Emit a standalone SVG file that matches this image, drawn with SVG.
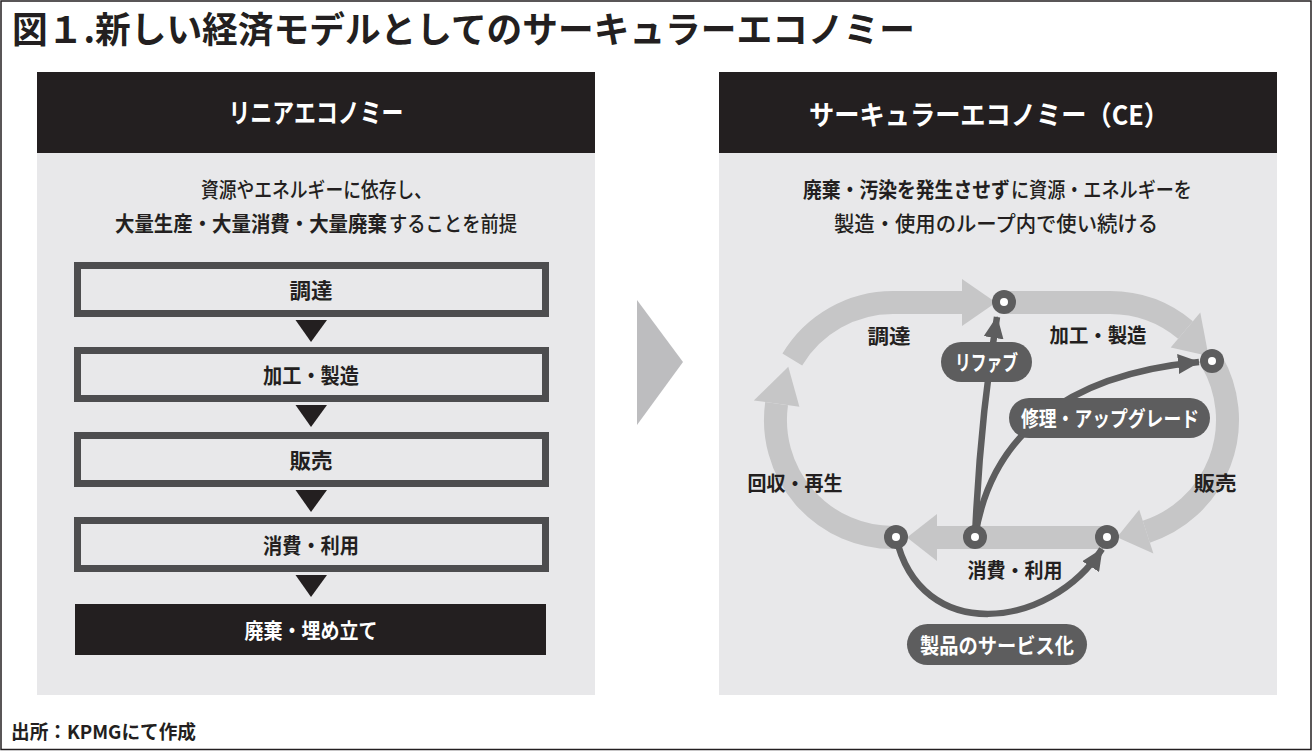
<svg xmlns="http://www.w3.org/2000/svg" width="1314" height="751" viewBox="0 0 1314 751">
<style>
text{font-family:"Noto Sans CJK JP","Noto Sans",sans-serif;}
.b{font-weight:700;}
.m{font-weight:500;}
.w{fill:#ffffff;}
.k{fill:#231f20;}
.panel{fill:#e8e8ea;}
.head{fill:#231f20;}
.box{fill:#e8e8ea;stroke:#4d4d4f;stroke-width:7;}
.tri{fill:#231f20;}
.band{fill:none;stroke:#c6c6c7;stroke-width:23;stroke-linecap:butt;}
.bandhead{fill:#c6c6c7;}
.conn{fill:none;stroke:#5d5d5e;stroke-width:6.5;}
.pill{fill:#5d5d5e;}
.ring{fill:#5d5d5e;}
.dot{fill:#ffffff;}
</style>
<defs>
<marker id="ah" viewBox="0 0 22 20" refX="21" refY="10" markerWidth="22" markerHeight="20" markerUnits="userSpaceOnUse" orient="auto">
<path d="M0,0 L22,10 L0,20 z" fill="#5d5d5e"/>
</marker>
</defs>
<rect x="1" y="1" width="1310" height="748.5" fill="#ffffff" stroke="#231f20" stroke-width="1.5"/>
<text id="title" class="b k" x="12" y="42.5" font-size="36" textLength="903" lengthAdjust="spacingAndGlyphs">図１.新しい経済モデルとしてのサーキュラーエコノミー</text>

<g id="linear-panel">
<rect class="panel" x="37" y="72" width="558" height="623"/>
<rect class="head" x="37" y="72" width="558" height="81"/>
<text class="b w" x="316" y="123" font-size="27" text-anchor="middle" textLength="175" lengthAdjust="spacingAndGlyphs">リニアエコノミー</text>
<text class="m k" x="316.5" y="197" font-size="21" text-anchor="middle" textLength="231" lengthAdjust="spacingAndGlyphs">資源やエネルギーに依存し、</text>
<text class="b k" transform="translate(115,231) scale(0.925,1)" x="0" y="0" font-size="21">大量生産・大量消費・大量廃棄</text>
<text class="m k" transform="translate(389,231) scale(0.871,1)" x="0" y="0" font-size="21">することを前提</text>
</g>

<g id="step-chotatsu">
<rect class="box" x="77.5" y="265.5" width="468" height="48"/>
<text class="b k" x="311" y="297.5" font-size="21" text-anchor="middle" textLength="43" lengthAdjust="spacingAndGlyphs">調達</text>
</g>
<g id="step-kakou">
<rect class="box" x="77.5" y="350.5" width="468" height="48"/>
<text class="b k" x="311" y="382.5" font-size="21" text-anchor="middle" textLength="96" lengthAdjust="spacingAndGlyphs">加工・製造</text>
</g>
<g id="step-hanbai">
<rect class="box" x="77.5" y="435.5" width="468" height="48"/>
<text class="b k" x="311" y="467.5" font-size="21" text-anchor="middle" textLength="43" lengthAdjust="spacingAndGlyphs">販売</text>
</g>
<g id="step-shouhi">
<rect class="box" x="77.5" y="520.5" width="468" height="48"/>
<text class="b k" x="311" y="552.5" font-size="21" text-anchor="middle" textLength="96" lengthAdjust="spacingAndGlyphs">消費・利用</text>
</g>
<g id="step-haiki">
<rect class="head" x="75" y="604" width="471" height="51"/>
<text class="b w" x="311" y="637.5" font-size="21" text-anchor="middle" textLength="133" lengthAdjust="spacingAndGlyphs">廃棄・埋め立て</text>
</g>

<g id="linear-connectors">
<polygon class="tri" points="295.5,320 327,320 311,342"/>
<polygon class="tri" points="295.5,405 327,405 311,427"/>
<polygon class="tri" points="295.5,490 327,490 311,512"/>
<polygon class="tri" points="295.5,575 327,575 311,597"/>
</g>

<g id="transition-arrow">
<polygon points="637,300 683,362 637,425" fill="#bdbdbf"/>
</g>

<g id="circular-panel">
<rect class="panel" x="719" y="72" width="558" height="623"/>
<rect class="head" x="719" y="72" width="558" height="81"/>
<text class="b w" x="809" y="125" font-size="27" textLength="360" lengthAdjust="spacingAndGlyphs">サーキュラーエコノミー（CE）</text>
<text class="b k" transform="translate(803,197) scale(0.896,1)" x="0" y="0" font-size="21">廃棄・汚染を発生させず</text>
<text class="m k" transform="translate(1011,197) scale(0.862,1)" x="0" y="0" font-size="21">に資源・エネルギーを</text>
<text class="m k" x="996" y="231" font-size="21" text-anchor="middle" textLength="324" lengthAdjust="spacingAndGlyphs">製造・使用のループ内で使い続ける</text>
</g>

<g id="loop">
<path class="band" d="M893,537.5 A117.5,117.5 0 0 1 776.6,403.6"/>
<polygon class="bandhead" points="753.8,400.4 799.4,406.8 788.3,366.7"/>
<path class="band" d="M792.3,359.5 A117.5,117.5 0 0 1 893,302.5 L962,302.5"/>
<polygon class="bandhead" points="962,279 962,326 996,302.5"/>
<path class="band" d="M1004,302.5 L1110,302.5 A117.5,117.5 0 0 1 1185.5,330"/>
<polygon class="bandhead" points="1200.3,312.4 1170.7,347.6 1208.5,356"/>
<path class="band" d="M1211.8,361.25 A117.5,117.5 0 0 1 1146.3,531.7"/>
<polygon class="bandhead" points="1153.4,553.6 1139.2,509.8 1117,537.3"/>
<path class="band" d="M1107,537.5 L937,537.5"/>
<polygon class="bandhead" points="937,514 937,561 907,537.5"/>
</g>

<g id="connectors">
<path class="conn" d="M975,537 Q980,420 997,317" marker-end="url(#ah)"/>
<path class="conn" d="M975,537 C990,440 1060,375 1199,362" marker-end="url(#ah)"/>
<path class="conn" d="M896,537 C920,645 1050,630 1102,549" marker-end="url(#ah)"/>
</g>

<g id="node-top"><circle class="ring" cx="1004" cy="302" r="12"/><circle class="dot" cx="1004" cy="302" r="4"/></g>
<g id="node-right"><circle class="ring" cx="1212" cy="361" r="12"/><circle class="dot" cx="1212" cy="361" r="4"/></g>
<g id="node-bottom-left"><circle class="ring" cx="896" cy="537" r="12"/><circle class="dot" cx="896" cy="537" r="4"/></g>
<g id="node-bottom-mid"><circle class="ring" cx="975" cy="537" r="12"/><circle class="dot" cx="975" cy="537" r="4"/></g>
<g id="node-bottom-right"><circle class="ring" cx="1107" cy="537" r="12"/><circle class="dot" cx="1107" cy="537" r="4"/></g>

<g id="pill-refurb">
<rect class="pill" x="941" y="342" width="91" height="40" rx="20"/>
<text class="b w" x="986.5" y="370" font-size="21" text-anchor="middle" textLength="63" lengthAdjust="spacingAndGlyphs">リファブ</text>
</g>
<g id="pill-repair">
<rect class="pill" x="1009" y="398" width="201" height="40" rx="20"/>
<text class="b w" x="1110" y="426" font-size="21" text-anchor="middle" textLength="178" lengthAdjust="spacingAndGlyphs">修理・アップグレード</text>
</g>
<g id="pill-service">
<rect class="pill" x="907" y="624" width="180" height="41" rx="20.5"/>
<text class="b w" x="997" y="652.5" font-size="21" text-anchor="middle" textLength="154" lengthAdjust="spacingAndGlyphs">製品のサービス化</text>
</g>

<g id="loop-labels">
<text class="b k" x="889" y="343.5" font-size="20" text-anchor="middle" textLength="43" lengthAdjust="spacingAndGlyphs">調達</text>
<text class="b k" x="1098" y="342.5" font-size="20" text-anchor="middle" textLength="97" lengthAdjust="spacingAndGlyphs">加工・製造</text>
<text class="b k" x="795" y="490.5" font-size="20" text-anchor="middle" textLength="95" lengthAdjust="spacingAndGlyphs">回収・再生</text>
<text class="b k" x="1215" y="490.5" font-size="20" text-anchor="middle" textLength="43" lengthAdjust="spacingAndGlyphs">販売</text>
<text class="b k" x="1015" y="577.5" font-size="20" text-anchor="middle" textLength="95" lengthAdjust="spacingAndGlyphs">消費・利用</text>
</g>

<text id="source" class="b k" x="11" y="739" font-size="19" textLength="185" lengthAdjust="spacingAndGlyphs">出所：KPMGにて作成</text>
</svg>
